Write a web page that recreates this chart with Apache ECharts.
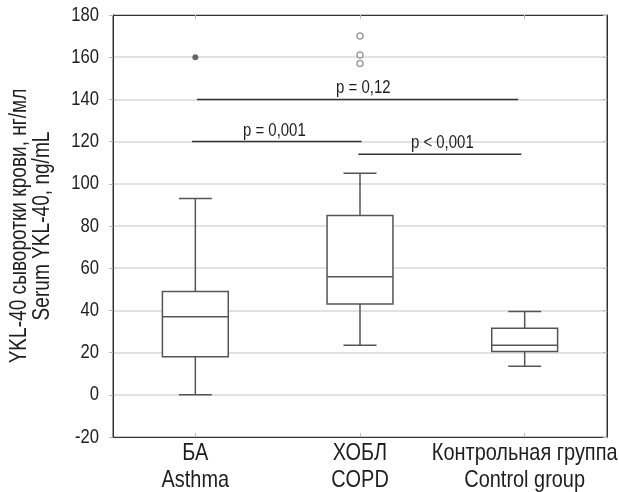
<!DOCTYPE html>
<html>
<head>
<meta charset="utf-8">
<script src="https://cdn.jsdelivr.net/npm/echarts@6/dist/echarts.min.js"></script>
<style>
  html, body { margin: 0; padding: 0; background: #fff; }
  #main { width: 619px; height: 492px; }
</style>
</head>
<body>
<div id="main"></div>
<script>
const groups = ['БА\nAsthma', 'ХОБЛ\nCOPD', 'Контрольная группа\nControl group']
// [min, Q1, median, Q3, max]
const boxStats = [
  [0, 18, 37, 49, 93],
  [23.5, 43, 56, 85, 105],
  [13.5, 20.5, 23.5, 31.5, 39.5],
]
const extremes = [[0, 160]]
const outliers = [[1, 170], [1, 161], [1, 157]]
// significance bars, x in category units (0..3 across the plot)
const sigFrom = [0.48, 0.51, 1.49]
const sigTo = [1.51, 2.46, 2.48]
const sigY = [120, 140, 114]
const sigLabelX = [0.98, 1.52, 2.0]
const sigText = ['p = 0,001', 'p = 0,12', 'p < 0,001']
const yTicks = [-20, 0, 20, 40, 60, 80, 100, 120, 140, 160, 180]
const yTitle = 'YKL-40 сыворотки крови, нг/мл\nSerum YKL-40, ng/mL'
const yMin = -20
const yMax = 180
const yStep = 20

// no narrow font installed, so squeeze Liberation Sans sideways
const FONT = '"Liberation Sans", Arial, sans-serif'
const NARROW = 0.83
const TEXT = '#1e1e1e'

const chart = echarts.init(document.getElementById('main'))

function renderBox(params, api) {
  const idx = api.value(0)
  const x = api.coord([idx, api.value(1)])[0]
  const yLo = api.coord([idx, api.value(1)])[1]
  const yQ1 = api.coord([idx, api.value(2)])[1]
  const yMed = api.coord([idx, api.value(3)])[1]
  const yQ3 = api.coord([idx, api.value(4)])[1]
  const yHi = api.coord([idx, api.value(5)])[1]
  const band = api.size([1, 0])[0]
  const hw = band * 0.2
  const cw = band * 0.1
  const line = { stroke: '#555', lineWidth: 1.5 }
  return {
    type: 'group',
    children: [
      { type: 'line', shape: { x1: x, y1: yHi, x2: x, y2: yQ3 }, style: line },
      { type: 'line', shape: { x1: x, y1: yQ1, x2: x, y2: yLo }, style: line },
      { type: 'line', shape: { x1: x - cw, y1: yHi, x2: x + cw, y2: yHi }, style: line },
      { type: 'line', shape: { x1: x - cw, y1: yLo, x2: x + cw, y2: yLo }, style: line },
      { type: 'rect', shape: { x: x - hw, y: yQ3, width: hw * 2, height: yQ1 - yQ3 }, style: { ...line, fill: '#fff' } },
      { type: 'line', shape: { x1: x - hw, y1: yMed, x2: x + hw, y2: yMed }, style: line },
    ],
  }
}

function narrowText(x, y, text, size, align, vAlign, lineHeight) {
  return {
    type: 'text',
    x,
    y,
    scaleX: NARROW,
    style: {
      text,
      fill: TEXT,
      fontSize: size,
      fontFamily: FONT,
      align,
      verticalAlign: vAlign,
      lineHeight: lineHeight || size,
    },
  }
}

// category labels under the axis
function renderCatLabel(params, api) {
  const i = api.value(0)
  const [x, y] = api.coord([i, yMin])
  return narrowText(x, y + 3, groups[i], 24, 'center', 'top', 27)
}

// y tick labels left of the axis
function renderTickLabel(params, api) {
  const [x, y] = api.coord([0, api.value(1)])
  return narrowText(x - 14, y, String(api.value(1)), 20, 'right', 'middle')
}

// p-value captions above the bars
function renderSigLabel(params, api) {
  const [x, y] = api.coord([api.value(0), api.value(1)])
  return narrowText(x, y - 2, sigText[params.dataIndex], 18, 'center', 'bottom')
}

const sigSeries = sigY.map((y, i) => ({
  type: 'line',
  xAxisIndex: 1,
  symbol: 'none',
  silent: true,
  lineStyle: { color: '#333', width: 1.5 },
  data: [[sigFrom[i], y], [sigTo[i], y]],
  z: 5,
}))

const option = {
  animation: false,
  backgroundColor: '#fff',
  grid: {
    left: 113,
    right: 12,
    top: 15,
    bottom: 55,
    containLabel: false,
    outerBoundsMode: 'none',
    show: true,
    borderColor: '#333',
    borderWidth: 1,
  },
  graphic: [
    {
      type: 'text',
      x: 31,
      y: 226,
      rotation: Math.PI / 2,
      scaleX: NARROW,
      style: {
        text: yTitle,
        fill: TEXT,
        fontSize: 23,
        fontFamily: FONT,
        lineHeight: 23,
        align: 'center',
        verticalAlign: 'middle',
      },
    },
  ],
  xAxis: [
    {
      type: 'category',
      data: groups,
      axisLine: { show: true, onZero: false, lineStyle: { color: '#333' } },
      axisTick: { show: true, inside: true, alignWithLabel: true, length: 4, lineStyle: { color: '#bbb' } },
      axisLabel: { show: false },
      splitLine: { show: false },
    },
    {
      type: 'value',
      min: 0,
      max: 3,
      show: false,
    },
    {
      type: 'category',
      data: groups,
      position: 'top',
      axisLine: { show: true, onZero: false, lineStyle: { color: '#333' } },
      axisTick: { show: true, inside: true, alignWithLabel: true, length: 4, lineStyle: { color: '#bbb' } },
      axisLabel: { show: false },
    },
  ],
  yAxis: [
    {
      type: 'value',
      min: yMin,
      max: yMax,
      interval: yStep,
      axisLine: { show: true, onZero: false, lineStyle: { color: '#333' } },
      axisTick: { show: true, length: 4, lineStyle: { color: '#bbb' } },
      axisLabel: { show: false },
      splitLine: { show: true, lineStyle: { color: '#d9d9d9', width: 1.5 } },
    },
    {
      type: 'value',
      min: yMin,
      max: yMax,
      interval: yStep,
      position: 'right',
      axisLine: { show: true, onZero: false, lineStyle: { color: '#333' } },
      axisTick: { show: true, inside: true, length: 4, lineStyle: { color: '#bbb' } },
      axisLabel: { show: false },
      splitLine: { show: false },
    },
  ],
  series: [
    {
      type: 'custom',
      renderItem: renderBox,
      data: boxStats.map((s, i) => [i, ...s]),
      encode: { x: 0, y: [1, 2, 3, 4, 5] },
      silent: true,
      z: 3,
    },
    {
      type: 'scatter',
      data: extremes,
      symbol: 'circle',
      symbolSize: 6,
      itemStyle: { color: '#444' },
      silent: true,
      z: 4,
    },
    {
      type: 'scatter',
      data: outliers,
      symbol: 'circle',
      symbolSize: 6,
      itemStyle: { color: '#fff', borderColor: '#888', borderWidth: 1.5 },
      silent: true,
      z: 4,
    },
    ...sigSeries,
    {
      type: 'custom',
      xAxisIndex: 1,
      renderItem: renderSigLabel,
      data: sigLabelX.map((x, i) => [x, sigY[i]]),
      encode: { x: 0, y: 1 },
      silent: true,
      z: 6,
    },
    {
      type: 'custom',
      renderItem: renderCatLabel,
      data: groups.map((g, i) => [i, yMin]),
      encode: { x: 0, y: 1 },
      clip: false,
      silent: true,
    },
    {
      type: 'custom',
      xAxisIndex: 1,
      renderItem: renderTickLabel,
      data: yTicks.map((v) => [0, v]),
      encode: { x: 0, y: 1 },
      clip: false,
      silent: true,
    },
  ],
}

chart.setOption(option)
</script>
</body>
</html>
